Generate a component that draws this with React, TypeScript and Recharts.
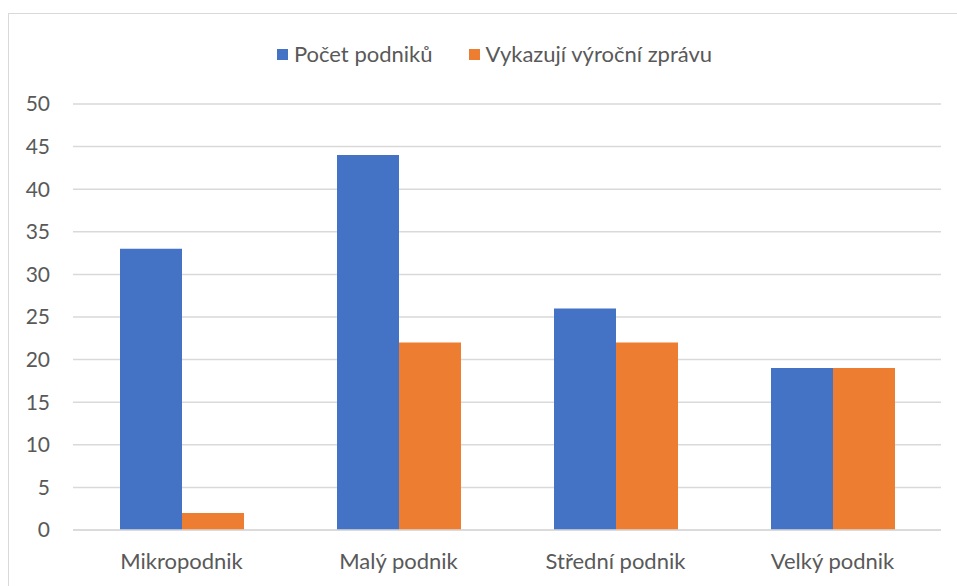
import { BarChart, Bar, XAxis, YAxis, CartesianGrid } from "recharts";

const categories = ["Mikropodnik", "Malý podnik", "Střední podnik", "Velký podnik"];
const pocetPodniku = [33, 44, 26, 19];
const vykazujiZpravu = [2, 22, 22, 19];
const yTicks = [0, 5, 10, 15, 20, 25, 30, 35, 40, 45, 50];

const BLUE = "#4472C4";
const ORANGE = "#ED7D31";
const TEXT = "#595959";
const FONT = "Lato, 'Open Sans', sans-serif";

const data = categories.map((name, i) => ({
  name,
  pocet: pocetPodniku[i],
  vykazuji: vykazujiZpravu[i],
}));

const legendItems = [
  { label: "Počet podniků", color: BLUE },
  { label: "Vykazují výroční zprávu", color: ORANGE },
];

export default function App() {
  return (
    <div
      style={{
        position: "absolute",
        left: 0,
        top: 0,
        width: 957,
        height: 586,
        overflow: "hidden",
        background: "#fff",
        fontFamily: FONT,
      }}
    >
      {/* chart frame, runs off the right and bottom edges */}
      <div
        style={{
          position: "absolute",
          left: 8,
          top: 13,
          width: 1000,
          height: 700,
          border: "1.5px solid #d9d9d9",
        }}
      />
      <div
        style={{
          position: "absolute",
          top: 41,
          left: 16,
          width: 957,
          display: "flex",
          justifyContent: "center",
          gap: 36,
          fontSize: 22,
          lineHeight: "26px",
          color: TEXT,
        }}
      >
        {legendItems.map((item) => (
          <div key={item.label} style={{ display: "flex", alignItems: "center", gap: 6 }}>
            <span style={{ width: 11, height: 11, background: item.color, display: "inline-block" }} />
            <span>{item.label}</span>
          </div>
        ))}
      </div>
      <div style={{ position: "absolute", left: 0, top: 0 }}>
        <BarChart
          width={957}
          height={586}
          data={data}
          margin={{ top: 104, right: 16, left: 0, bottom: 0 }}
          barSize={62}
          barGap={0}
        >
          <CartesianGrid vertical={false} stroke="#d9d9d9" strokeWidth={1.5} />
          <XAxis
            dataKey="name"
            height={56}
            axisLine={{ stroke: "#d9d9d9", strokeWidth: 1.5 }}
            tickLine={false}
            tickSize={0}
            tickMargin={23}
            tick={{ fill: TEXT, fontSize: 22, fontFamily: FONT }}
          />
          <YAxis
            width={73}
            domain={[0, 50]}
            ticks={yTicks}
            axisLine={false}
            tickLine={false}
            tickSize={0}
            tickMargin={23}
            tick={{ fill: TEXT, fontSize: 21, fontFamily: FONT }}
          />
          <Bar dataKey="pocet" fill={BLUE} isAnimationActive={false} />
          <Bar dataKey="vykazuji" fill={ORANGE} isAnimationActive={false} />
        </BarChart>
      </div>
    </div>
  );
}
